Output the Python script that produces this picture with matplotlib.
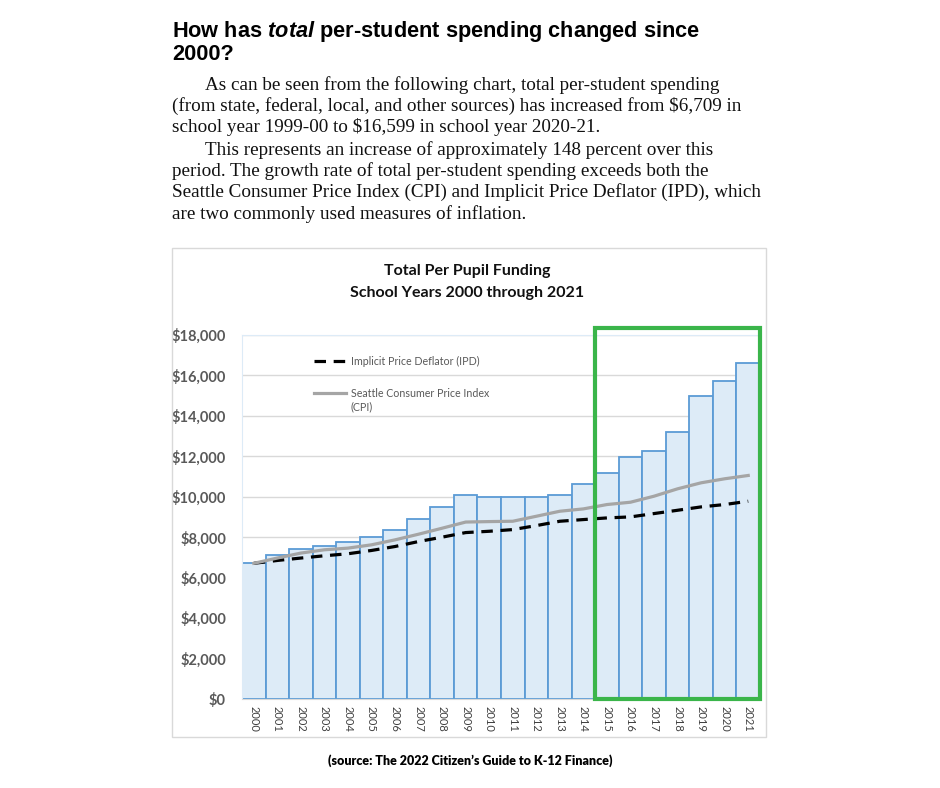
import matplotlib
matplotlib.use('Agg')
import matplotlib.pyplot as plt
from matplotlib.patches import Rectangle
from matplotlib.ticker import FuncFormatter

# data
years = [str(y) for y in range(2000, 2022)]
funding = [6709, 7098, 7410, 7590, 7772, 8018, 8378, 8888, 9478, 10100,
           9998, 9998, 9980, 10112, 10642, 11152, 11980, 12258, 13220,
           14983, 15747, 16599]
cpi = [6709, 6970, 7216, 7379, 7461, 7624, 7870, 8150, 8446, 8750,
       8773, 8790, 9037, 9285, 9401, 9616, 9731, 10029, 10394, 10691,
       10890, 11054]
ipd = [6709, 6851, 6970, 7083, 7182, 7345, 7541, 7787, 8003, 8230,
       8294, 8377, 8575, 8790, 8873, 8955, 9005, 9170, 9333, 9500,
       9616, 9780]
highlight_years = ['2015', '2021']   # green box range

W, H = 940, 788
fig = plt.figure(figsize=(W / 100, H / 100), dpi=100)
fig.patch.set_facecolor('white')

def fx(px):
    return px / W

def fy(py):
    return 1 - py / H

# --- heading and body text ---
plt.rcParams['mathtext.fontset'] = 'custom'
plt.rcParams['mathtext.it'] = 'Liberation Sans:italic:bold'
plt.rcParams['mathtext.rm'] = 'Liberation Sans:bold'
fig.text(fx(172), fy(37.5), r'How has $total$ per-student spending changed since',
         family='Liberation Sans', weight='bold', fontsize=15.7, va='baseline')
fig.text(fx(172), fy(59.5), '2000?', family='Liberation Sans', weight='bold',
         fontsize=15.7, va='baseline')

body = [
    (205, 90, 'As can be seen from the following chart, total per-student spending'),
    (172, 111, '(from state, federal, local, and other sources) has increased from $6,709 in'),
    (172, 132, 'school year 1999-00 to $16,599 in school year 2020-21.'),
    (205, 155, 'This represents an increase of approximately 148 percent over this'),
    (172, 176, 'period. The growth rate of total per-student spending exceeds both the'),
    (172, 197, 'Seattle Consumer Price Index (CPI) and Implicit Price Deflator (IPD), which'),
    (172, 219, 'are two commonly used measures of inflation.'),
]
for x, y, s in body:
    fig.text(fx(x), fy(y), s, family='Liberation Serif', fontsize=13.8,
             va='baseline', parse_math=False, color='#111111')

# --- chart frame ---
fig.patches.append(Rectangle((fx(172), fy(737)), fx(766) - fx(172), fy(248) - fy(737),
                             transform=fig.transFigure, fill=False,
                             edgecolor='#d9d9d9', linewidth=1))
fig.text(fx(467), fy(271), 'Total Per Pupil Funding', family='Lato', weight='bold',
         fontsize=11.5, ha='center', va='center', color='#111111')
fig.text(fx(467), fy(293), 'School Years 2000 through 2021', family='Lato',
         weight='bold', fontsize=11.5, ha='center', va='center', color='#111111')

ax = fig.add_axes([fx(242), fy(699), fx(760) - fx(242), fy(335) - fy(699)])
x = list(range(len(years)))
ax.bar(x, funding, width=1.0, color='#ddebf7', edgecolor='#5b9bd5',
       linewidth=1.3, zorder=2)
ax.plot(x, ipd, color='black', linewidth=2.3, dashes=(3.6, 2.4), zorder=3,
        label='Implicit Price Deflator (IPD)')
ax.plot(x, cpi, color='#a5a5a5', linewidth=2.3, zorder=4,
        label='Seattle Consumer Price Index')

ax.set_xlim(-0.5, len(years) - 0.5)
ax.set_ylim(0, 18000)
ax.set_yticks(range(0, 18001, 2000))
ax.yaxis.set_major_formatter(FuncFormatter(lambda v, p: '${:,.0f}'.format(v)))
ax.set_xticks(x)
ax.set_xticklabels(years, rotation=-90, fontsize=8, family='Lato',
                   color='#404040')
for lab in ax.get_yticklabels():
    lab.set_family('Lato')
    lab.set_weight('bold')
    lab.set_fontsize(10.5)
    lab.set_color('#595959')
ax.tick_params(axis='both', length=0)
ax.tick_params(axis='y', pad=11.5)
ax.tick_params(axis='x', pad=5)
ax.grid(axis='y', color='#d9d9d9', linewidth=1, zorder=0)
ax.set_axisbelow(True)
for side in ['top', 'left']:
    ax.spines[side].set_color('#ddebf7')
ax.spines['right'].set_visible(False)
ax.spines['bottom'].set_color('#d9d9d9')

i0 = years.index(highlight_years[0])
i1 = years.index(highlight_years[1])
ax.add_patch(Rectangle((i0 - 0.5, 0), i1 - i0 + 1, 18370, fill=False,
                       edgecolor='#3ab54a', linewidth=3, clip_on=False, zorder=5))

leg = ax.legend(loc='upper left', bbox_to_anchor=(0.13, 0.955), frameon=False,
                prop={'family': 'Lato', 'size': 7.7}, handlelength=3.0,
                handletextpad=0.45, labelspacing=2.0, borderaxespad=0)
for t in leg.get_texts():
    t.set_color('#595959')

# second line of the CPI legend entry, placed under its first line
fig.canvas.draw()
cpi_txt = leg.get_texts()[1]
bb = cpi_txt.get_window_extent()
fig.text(bb.x0 / W, (bb.y0 - 2) / H, '(CPI)', family='Lato', fontsize=7.7,
         color='#595959', va='top', ha='left')

fig.text(fx(470), fy(761), '(source: The 2022 Citizen\u2019s Guide to K-12 Finance)',
         family='Lato', weight='heavy', fontsize=9, ha='center', va='center')

fig.savefig('out.png', dpi=100)
